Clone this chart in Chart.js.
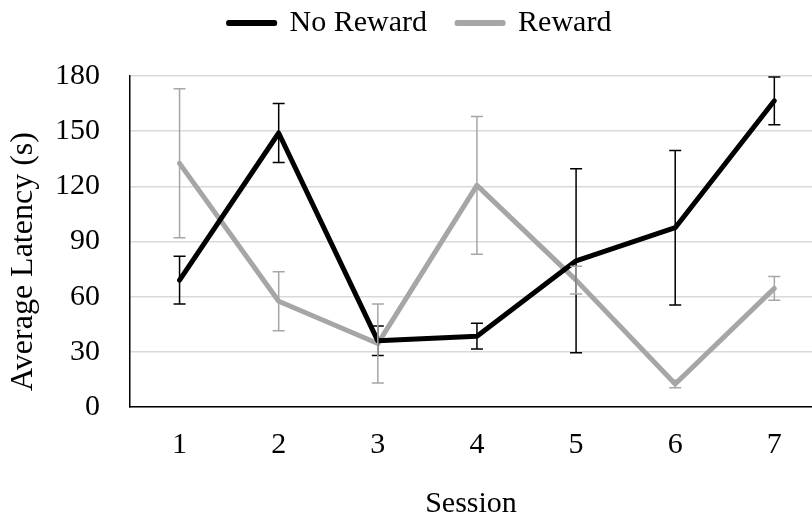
<!DOCTYPE html>
<html>
<head>
<meta charset="utf-8">
<script src="https://cdn.jsdelivr.net/npm/chart.js@4.4.1/dist/chart.umd.min.js"></script>
<style>
  html, body { margin: 0; padding: 0; background: #fff; overflow: hidden; }
  #wrap { width: 812px; height: 517px; position: relative; }
</style>
</head>
<body>
<div id="wrap"><canvas id="myChart"></canvas></div>
<script>
const sessions = ['1', '2', '3', '4', '5', '6', '7'];
const noReward = [69, 149, 36, 38.5, 79.5, 97.5, 166.5];
const noRewardErr = [13, 16, 8, 7, 50, 42, 13];
const reward = [132.5, 57.5, 34.5, 120.5, 69, 12.5, 64.5];
const rewardErr = [40.5, 16, 21.5, 37.5, 7.5, 2, 6.5];
const yTicks = [0, 30, 60, 90, 120, 150, 180];

const serif = "'Liberation Serif', 'Times New Roman', serif";

function toPoints(values) {
    return values.map((v, i) => ({ x: i + 1, y: v }));
}

// error bars drawn from the errors arrays through the y scale
const errorBars = {
    id: 'errorBars',
    afterDatasetsDraw(chart) {
        const ctx = chart.ctx;
        const yScale = chart.scales.y;
        chart.data.datasets.forEach((ds, di) => {
            const meta = chart.getDatasetMeta(di);
            ctx.save();
            ctx.strokeStyle = ds.errorColor;
            ctx.lineWidth = 1.5;
            meta.data.forEach((pt, i) => {
                const v = ds.data[i].y;
                const e = ds.errors[i];
                const top = yScale.getPixelForValue(v + e);
                const bot = yScale.getPixelForValue(v - e);
                ctx.beginPath();
                ctx.moveTo(pt.x, top);
                ctx.lineTo(pt.x, bot);
                ctx.moveTo(pt.x - 6, top);
                ctx.lineTo(pt.x + 6, top);
                ctx.moveTo(pt.x - 6, bot);
                ctx.lineTo(pt.x + 6, bot);
                ctx.stroke();
            });
            ctx.restore();
        });
    }
};

// extra room under the legend
const legendGap = {
    id: 'legendGap',
    beforeInit(chart) {
        const origFit = chart.legend.fit;
        chart.legend.fit = function() {
            origFit.call(this);
            this.height += 28;
        };
    }
};

const ctx = document.getElementById('myChart').getContext('2d');
const myChart = new Chart(ctx, {
    type: 'line',
    data: {
        datasets: [
            {
                label: 'No Reward',
                data: toPoints(noReward),
                errors: noRewardErr,
                errorColor: '#000000',
                borderColor: '#000000',
                backgroundColor: '#000000',
                borderWidth: 5,
                borderCapStyle: 'round',
                borderJoinStyle: 'round',
                pointRadius: 0,
                tension: 0
            },
            {
                label: 'Reward',
                data: toPoints(reward),
                errors: rewardErr,
                errorColor: '#a6a6a6',
                borderColor: '#a6a6a6',
                backgroundColor: '#a6a6a6',
                borderWidth: 5,
                borderCapStyle: 'round',
                borderJoinStyle: 'round',
                pointRadius: 0,
                tension: 0
            }
        ]
    },
    options: {
        responsive: true,
        maintainAspectRatio: false,
        animation: false,
        layout: { padding: { top: -22, left: 28, right: 0, bottom: 0 } },
        scales: {
            x: {
                type: 'linear',
                min: 0.5,
                max: 7.38,
                afterBuildTicks: function(scale) {
                    scale.ticks = sessions.map((s, i) => ({ value: i + 1 }));
                },
                afterFit: function(scale) { scale.height = 110; },
                grid: { display: false, drawTicks: false },
                border: { display: true, color: '#000000', width: 1.5 },
                ticks: {
                    padding: 20,
                    color: '#000000',
                    font: { family: serif, size: 30 },
                    callback: function(value) { return sessions[value - 1]; }
                },
                title: {
                    display: true,
                    text: 'Session',
                    color: '#000000',
                    font: { family: serif, size: 30 },
                    padding: { top: 0, bottom: -5 }
                }
            },
            y: {
                min: 0,
                max: 180,
                afterBuildTicks: function(scale) {
                    scale.ticks = yTicks.map(v => ({ value: v }));
                },
                afterFit: function(scale) { scale.width = 102; },
                grid: { color: '#d9d9d9', lineWidth: 1.5, drawTicks: false },
                border: { display: true, color: '#000000', width: 1.5 },
                ticks: {
                    padding: 30,
                    color: '#000000',
                    font: { family: serif, size: 30 }
                },
                title: {
                    display: true,
                    // trailing spaces nudge the rotated title down to where the original sits
                    text: 'Average Latency (s)     ',
                    color: '#000000',
                    font: { family: serif, size: 32 },
                    padding: { top: -24, bottom: 0 }
                }
            }
        },
        plugins: {
            legend: {
                position: 'top',
                labels: {
                    color: '#000000',
                    font: { family: serif, size: 30 },
                    boxWidth: 46,
                    boxHeight: 1,
                    padding: 30
                }
            },
            tooltip: { enabled: false }
        }
    },
    plugins: [errorBars, legendGap]
});
</script>
</body>
</html>
